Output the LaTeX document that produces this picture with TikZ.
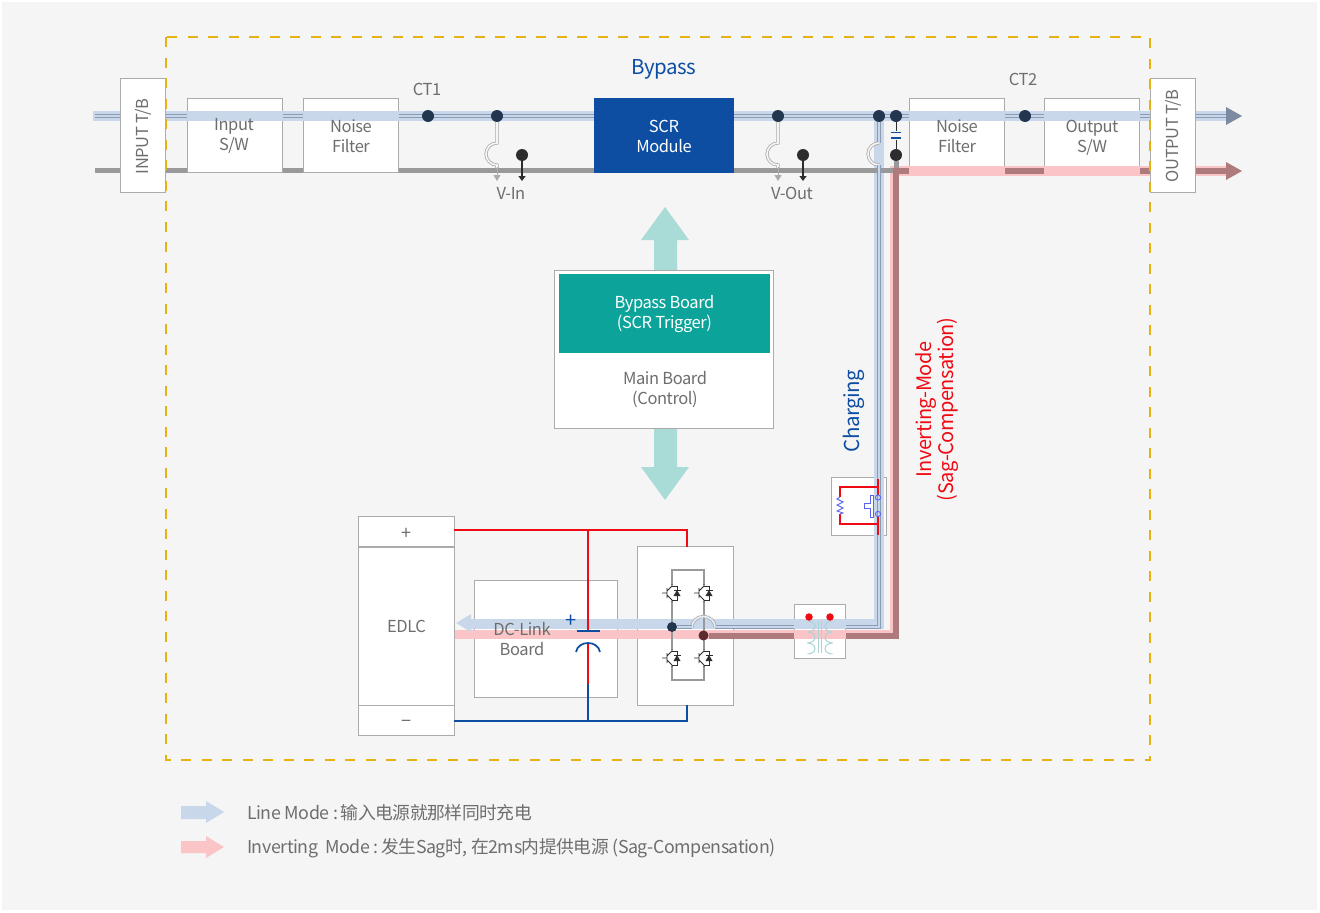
\documentclass[tikz,border=0pt]{standalone}
\usepackage{fontspec}
\setmainfont{Noto Sans CJK SC}[LetterSpace=-2.5]
\usetikzlibrary{arrows.meta,calc}
\definecolor{panel}{HTML}{F5F5F5}
\definecolor{bandB}{HTML}{C9D7EA}
\definecolor{bandR}{HTML}{FBC4C6}
\definecolor{wireB}{HTML}{8A9BB3}
\definecolor{wireG}{HTML}{999999}
\definecolor{wireD}{HTML}{AF7A7C}
\definecolor{edge}{HTML}{ABABAB}
\definecolor{txt}{HTML}{6E6E6E}
\definecolor{navy}{HTML}{0D4EA3}
\definecolor{teal}{HTML}{0CA49A}
\definecolor{lteal}{HTML}{A9DCD6}
\definecolor{gold}{HTML}{E6B211}
\definecolor{dotB}{HTML}{233650}
\definecolor{dotK}{HTML}{2D2D2D}
\definecolor{dotR}{HTML}{5E2A2E}
\definecolor{pure}{HTML}{F00A14}
\definecolor{coil}{HTML}{A9D5D9}
\definecolor{swc}{HTML}{5A64F0}
\newcommand{\myigbt}[2]{%
  \begin{scope}[shift={(#1,#2)},line width=.8pt,dotK]
    \draw (-10,0)--(-5,0) (-5,-5)--(-5,5) (-5,-2)--(0,-7)--(0,-9) (-5,2)--(0,7)--(0,9);
    \draw (0,-7)--(5,-7)--(5,-3) (5,3)--(5,7)--(0,7) (1.5,-3)--(8.5,-3);
    \fill (1.5,3)--(8.5,3)--(5,-3)--cycle;
  \end{scope}}
\tikzset{
  x=1pt,y=-1pt,
  boxn/.style={draw=edge,fill=white,line width=1pt,inner sep=0pt,align=center,text=txt,
    font=\fontsize{16.5}{20}\selectfont},
  lbl/.style={text=txt,inner sep=0pt,align=center,font=\fontsize{16.5}{20}\selectfont},
  bandb/.style={bandB,line width=10pt},
  bandr/.style={bandR,line width=9.5pt},
  dbl/.style={draw=wireB,line width=.8pt,double=bandB,double distance=1.8pt},
  dblg/.style={draw=edge,line width=.8pt,double=panel,double distance=1.6pt},
  gline/.style={wireG,line width=5pt},
  rline/.style={wireD,line width=6pt},
  dotn/.style={circle,inner sep=0pt,minimum size=12pt},
  redw/.style={draw=pure,line width=2pt},
  bluew/.style={draw=navy,line width=2pt}
}
\begin{document}
\begin{tikzpicture}
\useasboundingbox (0,0) rectangle (1320,913);
\fill[white] (0,0) rectangle (1320,913);
\fill[panel] (2,2) rectangle (1317,910);

% free ends
\coordinate (tl) at (95,116);
\coordinate (bl) at (95,170.5);
\coordinate (tr) at (1228,116);
\coordinate (br) at (1228,171);
\coordinate (cv) at (879,627);

% white boxes under the bands
\node[boxn,minimum width=95pt,minimum height=74pt] (insw) at (235,135) {};
\node[boxn,minimum width=95pt,minimum height=74pt] (nf1) at (351,135) {};
\node[boxn,minimum width=95pt,minimum height=74pt] (nf2) at (957,135) {};
\node[boxn,minimum width=95pt,minimum height=74pt] (outsw) at (1092,135) {};
\node[boxn,minimum width=143pt,minimum height=117pt] (dcb) at (546,639) {};
\node[boxn,minimum width=96pt,minimum height=159pt] (brb) at (685.5,626) {};
\node[boxn,minimum width=55pt,minimum height=58pt] (swb) at (859,506.5) {};
\node[boxn,minimum width=51pt,minimum height=54pt] (trb) at (820,631.5) {};

% bands
\draw[bandb] (93,116)--(1228,116);
\draw[bandb] (878.5,111)--(878.5,624)--(471,624);
\draw[bandr] (1228,171)--(894.7,171)--(894.7,634.7)--(455,634.7);
\fill[bandB] (471,614)--(456,623)--(471,632)--cycle;

% transformer core and coils
\draw[coil,line width=.8pt] (818.5,621)--(818.5,653) (821.5,621)--(821.5,653);
\foreach \yy in {621,632,643}{
  \draw[coil,line width=1pt] (807.5,\yy) arc[start angle=-90,end angle=90,x radius=7.5,y radius=5.5];
  \draw[coil,line width=1pt] (832.5,\yy) arc[start angle=270,end angle=90,x radius=7.5,y radius=5.5];
}

% mains
\draw[gline] (bl)--(120,170.5) (166,170.5)--(187,170.5) (283,170.5)--(303,170.5) (399,170.5)--(594,170.5) (734,170.5)--(893,170.5);
\draw[rline] (893,171)--(909,171) (1005,171)--(1044,171) (1140,171)--(1150,171) (1196,171)--(br);
\draw[dbl] (tl)--(120,116);
\draw[dbl] (166,116)--(187,116) (283,116)--(303,116) (399,116)--(594,116) (734,116)--(909,116) (1005,116)--(1044,116) (1140,116)--(1150,116) (1196,116)--(tr);

% texts in boxes over bands
\node[lbl] at (234,136) {Input\\S/W};
\node[lbl] at (351,136) {Noise\\Filter};
\node[lbl] at (957,136) {Noise\\Filter};
\node[lbl] at (1092,138) {Output\\S/W};

% terminal boards and SCR
\node[boxn,minimum width=45pt,minimum height=114pt] (intb) at (143,135) {};
\node[lbl,rotate=90] (intbl) at (143.5,136.5) {INPUT T/B};
\node[boxn,minimum width=45pt,minimum height=114pt] (outtb) at (1173,135) {};
\node[lbl,rotate=90] (outtbl) at (1173.5,136) {OUTPUT T/B};
\node[fill=navy,minimum width=140pt,minimum height=75pt,inner sep=0pt] (scr) at (664,135.5) {};
\node[lbl,text=white] (scrl) at (664,136) {SCR\\Module};

% arrow heads right
\fill[wireB!90!black] (1226,107)--(1242,116)--(1226,125)--cycle;
\fill[wireD] (1226,162)--(1242,171)--(1226,180)--cycle;

% sensors
\node[dotn,fill=dotB] (ct1) at (428,116) {};
\node[dotn,fill=dotB] (vi1) at (497,116) {};
\node[dotn,fill=dotK] (vi2) at (522,155) {};
\node[dotn,fill=dotB] (vo1) at (778,116) {};
\node[dotn,fill=dotK] (vo2) at (803,155) {};
\node[dotn,fill=dotB] (cap1) at (896,116) {};
\node[dotn,fill=dotB] (ct2) at (1025,116) {};
\coordinate (vig) at (497,181);
\coordinate (vik) at (522,181);
\coordinate (vog) at (778,181);
\coordinate (vok) at (803,181);

\draw[dblg] (vi1)--(497,143) arc[start angle=270,end angle=90,x radius=11,y radius=11]--(497,168);
\draw[edge,line width=1pt,-{Triangle[width=7pt,length=6pt]}] (497,167)--(vig);
\draw[dotK,line width=1.4pt,-{Triangle[width=7pt,length=5pt]}] (vi2)--(vik);
\draw[dblg] (vo1)--(778,143) arc[start angle=270,end angle=90,x radius=11,y radius=11]--(778,168);
\draw[edge,line width=1pt,-{Triangle[width=7pt,length=6pt]}] (778,167)--(vog);
\draw[dotK,line width=1.4pt,-{Triangle[width=7pt,length=5pt]}] (vo2)--(vok);

% bridge wiring
\draw[wireG,line width=1.6pt] (672,585)--(672,570)--(704,570)--(704,585) (672,601)--(672,650) (704,601)--(704,650) (672,666)--(672,680)--(704,680)--(704,666);
\myigbt{672}{593}\myigbt{704}{593}\myigbt{672}{658}\myigbt{704}{658}

% charging path
\node[dotn,fill=dotB] (cj) at (879,116) {};
\node[dotn,fill=dotB,minimum size=10pt] (bra) at (672,627) {};
\node[dotn,fill=dotR,minimum size=10pt] (brc) at (703.5,635.5) {};
\draw[dbl] (cj)--(879,143);
\draw[dblg] (879,143) arc[start angle=270,end angle=90,x radius=11,y radius=11];
\draw[dbl] (879,165)--(cv)--(846,627);
\draw[dbl] (794,627)--(715,627);
\draw[draw=edge,line width=.8pt,double=bandB!40!white,double distance=1.6pt] (715,627) arc[start angle=0,end angle=-180,x radius=11.5,y radius=10.5];
\draw[dbl] (692,627)--(bra);

% sag path
\node[dotn,fill=dotK] (cap2) at (896,155) {};
\draw[wireG,line width=5pt] (cap2)--(896,168);
\draw[rline] (896,168)--(896,635.5)--(846,635.5) (794,635.5)--(brc);
\draw[dotK,line width=.8pt] (cap1)--(896,130.5) (896,140)--(cap2);
\draw[navy,line width=1.2pt] (891,132.5)--(901,132.5) (891,138)--(901,138);

% labels
\node[lbl,text=navy,font=\fontsize{20.5}{24}\selectfont] (bypass) at (664,69) {Bypass};
\node[lbl] (ct1l) at (427,89) {CT1};
\node[lbl] (ct2l) at (1023,79) {CT2};
\node[lbl] (vinl) at (511,193) {V-In};
\node[lbl] (voutl) at (792,193) {V-Out};
\node[lbl,text=navy,rotate=90,font=\fontsize{20.5}{24}\selectfont] (chg) at (854,411) {Charging};
\node[lbl,text=pure,rotate=90,font=\fontsize{20}{19.5}\selectfont] (invl) at (937,409.5) {Inverting-Mode\\(Sag-Compensation)};

% control boards
\coordinate (upt) at (665,207);
\coordinate (dnt) at (665,500);
\fill[lteal] (654,271)--(654,240)--(641,240)--(upt)--(689,240)--(677,240)--(677,271)--cycle;
\fill[lteal] (654,428)--(654,467)--(641,467)--(dnt)--(689,467)--(677,467)--(677,428)--cycle;
\node[boxn,minimum width=219pt,minimum height=158pt] (main) at (663.5,349.5) {};
\node[fill=teal,minimum width=211pt,minimum height=79pt,inner sep=0pt] (bpb) at (664.5,313.5) {};
\node[lbl,text=white] (bpbl) at (664.5,313.5) {Bypass Board\\(SCR Trigger)};
\node[lbl] (mainl) at (665,390) {Main Board\\(Control)};

% EDLC
\node[boxn,minimum width=96pt,minimum height=30pt] (ep) at (406.5,531.5) {};
\node[boxn,minimum width=96pt,minimum height=158pt] (ed) at (406.5,626) {EDLC};
\node[boxn,minimum width=96pt,minimum height=30pt] (em) at (406.5,720.5) {};
\node[lbl,font=\fontsize{18}{20}\selectfont] (epl) at (406,534) {+};
\node[lbl,font=\fontsize{18}{20}\selectfont] (eml) at (406,723.5) {−};

% DC-link
\node[lbl] (dcl) at (522,639) {DC-Link\\Board};
\coordinate (ra) at (455,530);
\coordinate (rj) at (588,530);
\coordinate (rb) at (686.5,530);
\coordinate (ba) at (455,721);
\coordinate (bj) at (588,721);
\coordinate (bb) at (686.5,721);
\coordinate (cp) at (588,631);
\coordinate (cn) at (588,643);
\coordinate (cm) at (588,684);
\draw[redw,line cap=rect] (ra)--(rb)--(rb|-brb.north);
\draw[redw] (rj)--(cp);
\draw[bluew,line cap=rect] (ba)--(bb)--(bb|-brb.south);
\draw[redw] (cn)--(cm);
\draw[bluew] (cm)--(bj);
\draw[navy,line width=1.4pt] (577,631)--(600,631);
\draw[navy,line width=1.7pt] (576,652) .. controls (578,640) and (598,640) .. (600,652);
\node[text=navy,inner sep=0pt,font=\fontsize{20}{20}\selectfont] (plus) at (571,621) {+};

% switch
\draw[redw] (878,479)--(878,495) (878,517)--(878,535);
\draw[redw] (878,487)--(840,487)--(840,497) (840,514)--(840,524)--(878,524);
\draw[swc,line width=.9pt] (878,497.5) circle[radius=2.6] (878,514) circle[radius=2.6];
\draw[swc,line width=.9pt] (873,495)--(870,495)--(870,503)--(864.5,503)--(864.5,508)--(870,508)--(870,517)--(873,517)--cycle;
\draw[swc,line width=.9pt] (840,497)--(837,499)--(843,502)--(837,505)--(843,508)--(837,511)--(843,513)--(840,514);

% transformer terminals
\node[dotn,fill=pure,minimum size=7.5pt] (tr1) at (809,617) {};
\node[dotn,fill=pure,minimum size=7.5pt] (tr2) at (830,617) {};

% frame
\draw[gold,line width=2pt,dash pattern=on 10pt off 10.5pt] (166,37) rectangle (1150,760);

% legend
\fill[bandB] (181,806)--(206,806)--(206,801)--(224,812)--(206,823)--(206,819)--(181,819)--cycle;
\fill[bandR] (181,841)--(206,841)--(206,836)--(224,847)--(206,858)--(206,853)--(181,853)--cycle;
\node[lbl,anchor=west,font=\fontsize{17.8}{22}\selectfont] (leg1) at (247,813) {Line Mode :\hspace{-2pt} 输入电源就那样同时充电};
\node[lbl,anchor=west,font=\fontsize{17.8}{22}\selectfont] (leg2) at (247,848) {Inverting\ \ Mode :\hspace{-2pt} 发生Sag时, 在2ms内提供电源 (Sag-Compensation)};
\end{tikzpicture}
\end{document}
